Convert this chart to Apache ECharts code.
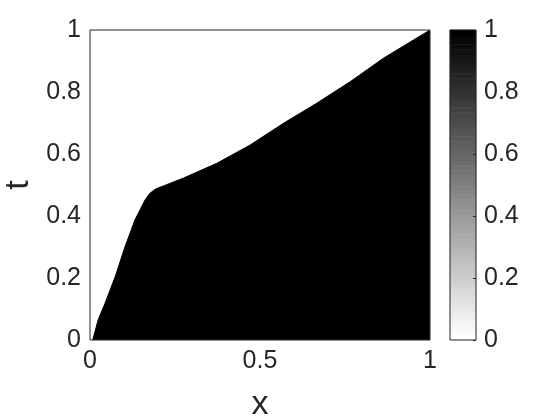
<!DOCTYPE html>
<html>
<head>
<meta charset="utf-8">
<script src="https://cdn.jsdelivr.net/npm/echarts@6/dist/echarts.min.js"></script>
<style>
html,body{margin:0;padding:0;background:#fff;}
#chart{width:560px;height:420px;}
</style>
</head>
<body>
<div id="chart"></div>
<script>
// Front position: black (u = 1) below/right of the curve t(x)
const frontX = [0.008, 0.024, 0.044, 0.074, 0.103, 0.132, 0.162, 0.176, 0.193, 0.274, 0.373, 0.471, 0.569, 0.667, 0.765, 0.863, 1.000];
const frontT = [0.000, 0.065, 0.118, 0.204, 0.301, 0.387, 0.452, 0.473, 0.487, 0.522, 0.570, 0.629, 0.699, 0.764, 0.833, 0.909, 1.000];
// Axis ticks
const xTicks = [0, 0.5, 1];
const tTicks = [0, 0.2, 0.4, 0.6, 0.8, 1];
const cbTicks = [0, 0.2, 0.4, 0.6, 0.8, 1];
// Colormap (flipped gray, 64 levels) shown in the colour bar
const nLevels = 64;
const cbLevels = [];
for (let i = 0; i < nLevels; i++) cbLevels.push(i / (nLevels - 1));

const FONT = "'Liberation Sans', Arial, Helvetica, sans-serif";
const INK = '#262626';

const frontData = frontX.map((x, i) => [x, frontT[i]]);
const cbData = cbLevels.map((v, i) => [0, i, v]);

const chart = echarts.init(document.getElementById('chart'), null, {renderer: 'canvas'});
chart.setOption({
  animation: false,
  backgroundColor: '#ffffff',
  textStyle: {fontFamily: FONT},
  grid: [
    {left: 90, top: 30, width: 340, height: 310, show: true, z: 10, containLabel: false,
     outerBoundsMode: 'none',
     backgroundColor: 'transparent', borderColor: INK, borderWidth: 1},
    {left: 450, top: 30, width: 26, height: 310, show: true, z: 10, containLabel: false,
     outerBoundsMode: 'none',
     backgroundColor: 'transparent', borderColor: INK, borderWidth: 1}
  ],
  xAxis: [
    {type: 'value', gridIndex: 0, min: 0, max: 1, interval: 0.5,
     axisLine: {show: false}, axisTick: {show: false}, splitLine: {show: false},
     axisLabel: {fontSize: 25, color: INK, margin: 9, fontFamily: FONT,
       formatter: v => xTicks.includes(v) ? String(v) : ''},
     name: 'x', nameLocation: 'middle', nameGap: 48,
     nameTextStyle: {fontSize: 34, color: INK, fontFamily: FONT}},
    {type: 'category', gridIndex: 1, data: ['c'], show: false}
  ],
  yAxis: [
    {type: 'value', gridIndex: 0, min: 0, max: 1, interval: 0.2,
     axisLine: {show: false}, axisTick: {show: false}, splitLine: {show: false},
     axisLabel: {fontSize: 25, color: INK, margin: 9, fontFamily: FONT,
       formatter: v => String(Math.round(v * 10) / 10)},
     name: 't', nameLocation: 'middle', nameGap: 50,
     nameTextStyle: {fontSize: 34, color: INK, fontFamily: FONT}},
    {type: 'category', gridIndex: 1, data: cbLevels.map((v, i) => i), show: false},
    {type: 'value', gridIndex: 1, position: 'right', min: 0, max: 1, interval: 0.2, z: 11,
     axisLine: {show: false},
     axisTick: {show: true, inside: true, length: 3, lineStyle: {color: INK, width: 1}},
     splitLine: {show: false},
     axisLabel: {fontSize: 25, color: INK, margin: 8, fontFamily: FONT,
       formatter: v => String(Math.round(v * 10) / 10)}}
  ],
  visualMap: {
    type: 'continuous', show: false, min: 0, max: 1, seriesIndex: 1,
    inRange: {color: ['#ffffff', '#000000']}
  },
  series: [
    {type: 'line', xAxisIndex: 0, yAxisIndex: 0, data: frontData,
     symbol: 'none', smooth: false, clip: true,
     lineStyle: {color: '#000000', width: 1},
     areaStyle: {color: '#000000', opacity: 1, origin: 'start'}},
    {type: 'heatmap', xAxisIndex: 1, yAxisIndex: 1, data: cbData,
     progressive: 0, itemStyle: {borderWidth: 0}}
  ]
});
</script>
</body>
</html>
